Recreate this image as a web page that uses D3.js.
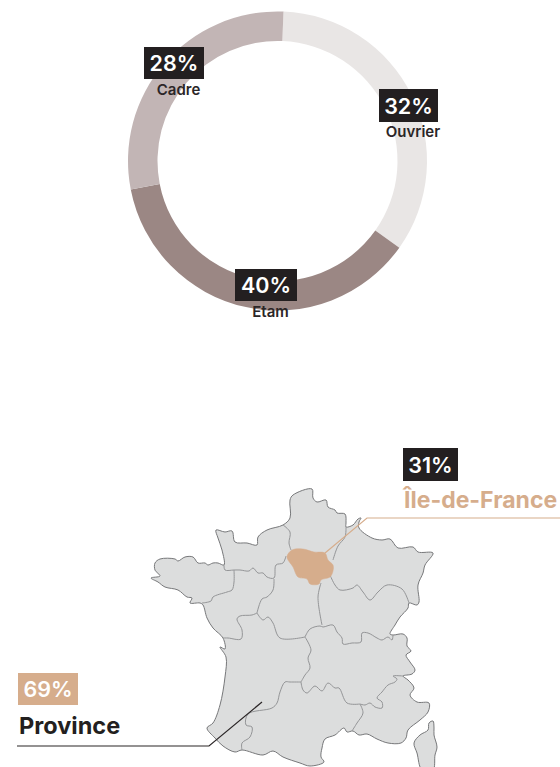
<!DOCTYPE html>
<html>
<head>
<meta charset="utf-8">
<script src="https://cdn.jsdelivr.net/npm/d3@7"></script>
<style>
  html, body { margin: 0; padding: 0; background: #fff; overflow: hidden; }
  text { font-family: Inter, "Noto Sans", sans-serif; }
</style>
</head>
<body>
<svg id="chart"></svg>
<script>
let categories = ['Ouvrier', 'Etam', 'Cadre']
let printedPct = [32, 40, 28]
let arcShares = [34.2, 37.1, 28.7]

//map values
let areaNames = ['Île-de-France', 'Province']
let areaPct = [31, 69]

//map shapes, traced in map units
let franceOutline = [[290,518],[290,500],[293,495],[312,489],[313,498],[317,502],[326,500],[328,507],[335,510],[337,513],[345,514],[346,523],[346,527],[353,525],[358,519],[361,518],[359,522],[359,528],[372,538],[382,540],[390,539],[398,548],[413,547],[418,552],[433,553],[425,565],[423,573],[418,585],[419,602],[417,605],[409,603],[408,608],[400,617],[395,625],[390,634],[393,635],[403,634],[407,638],[407,646],[411,651],[406,655],[410,662],[415,670],[412,674],[403,676],[408,680],[414,688],[410,695],[417,702],[429,703],[428,712],[420,720],[408,730],[406,738],[401,743],[388,743],[377,739],[367,734],[359,735],[353,731],[347,732],[344,728],[335,735],[325,739],[322,748],[321,757],[324,762],[310,766],[300,763],[283,757],[273,751],[263,755],[242,750],[235,752],[223,746],[215,738],[207,728],[213,723],[220,705],[225,677],[226,657],[220,647],[225,649],[223,638],[213,628],[207,618],[203,605],[200,603],[190,603],[192,598],[187,597],[178,590],[165,587],[158,582],[151,578],[160,576],[155,570],[155,563],[160,559],[175,559],[178,561],[185,557],[193,557],[198,563],[205,563],[208,565],[213,563],[218,563],[224,565],[222,550],[218,538],[216,530],[225,532],[232,531],[235,542],[247,543],[257,545],[258,537],[267,530],[283,525]]
let corsica = [[428,730],[429,723],[433,721],[434,728],[434,735],[437,747],[435,755],[433,770],[422,770],[417,753],[414,743],[420,735]]
let ileDeFrance = [[287,557],[292,550],[303,549],[314,552],[325,553],[328,560],[333,565],[333,571],[330,577],[321,580],[319,584],[310,584],[307,579],[298,577],[293,567]]
let regionBorders = [
  [[283,525],[290,532],[289,543],[291,550]],
  [[286,556],[283,563],[276,565],[274,578],[267,577],[263,573],[258,573],[253,568],[249,571],[240,570],[234,570],[225,570],[224,565]],
  [[234,570],[234,582],[232,590],[227,592],[213,597],[211,601],[202,603]],
  [[274,579],[273,590],[267,597],[262,599],[257,613]],
  [[257,613],[252,615],[240,616],[237,619],[242,630],[241,639],[228,638],[223,638]],
  [[257,613],[263,620],[268,617],[273,623],[280,638],[305,637]],
  [[321,583],[318,597],[322,625]],
  [[305,637],[310,629],[320,626],[323,627],[333,625],[337,632],[342,638],[343,644],[352,643],[361,642],[362,633],[368,633],[377,638],[382,640],[388,637],[392,640],[393,635]],
  [[305,637],[311,650],[308,658],[310,668],[305,675],[301,682]],
  [[301,682],[290,682],[285,682],[280,692],[277,703],[272,708],[248,714],[246,725],[252,727],[250,737],[242,743],[242,750]],
  [[301,682],[303,690],[307,693],[315,686],[322,691],[328,683],[335,688],[339,688],[347,703],[360,704]],
  [[360,704],[363,713],[357,723],[352,731]],
  [[360,704],[365,705],[370,703],[375,707],[382,708],[382,702],[377,698],[382,692],[388,685],[395,682],[397,679],[393,676],[403,676]],
  [[330,575],[335,585],[340,590],[353,588],[357,585],[363,592],[370,600],[378,592],[387,585],[402,589],[409,603]],
  [[346,527],[345,537],[338,546],[333,560]]
]

//set outer region
let outerWidth = 560
let outerHeight = 767

let ringColors = ['#e9e6e5', '#9b8784', '#c2b5b5']
let darkBox = '#231f20'
let tan = '#d6ad8c'

let svg = d3
  .select('svg#chart')
  .attr('width', outerWidth)
  .attr('height', outerHeight)
  .style('display', 'block')

//DONUT
let ring = svg.append('g').attr('transform', 'translate(277.5,161)')

let pie = d3
  .pie()
  .sort(null)
  .startAngle((2.3 * Math.PI) / 180)
  .endAngle((362.3 * Math.PI) / 180)

let arc = d3.arc().innerRadius(120).outerRadius(149.5)

ring
  .selectAll('path')
  .data(pie(arcShares))
  .join('path')
  .attr('d', arc)
  .attr('fill', (d, i) => ringColors[i])

//label boxes for the ring, same order as categories
let ringLabels = [
  { x: 379, y: 89, w: 59, h: 33, nameX: 413, nameY: 137 },
  { x: 235, y: 269, w: 62, h: 32, nameX: 270.5, nameY: 317 },
  { x: 144, y: 47, w: 60, h: 32, nameX: 178.5, nameY: 95 }
]

function pctBox(x, y, w, h, fill, label) {
  svg
    .append('rect')
    .attr('x', x)
    .attr('y', y)
    .attr('width', w)
    .attr('height', h)
    .attr('fill', fill)
  svg
    .append('text')
    .attr('x', x + w / 2)
    .attr('y', y + h / 2 + 8)
    .attr('text-anchor', 'middle')
    .attr('fill', '#fff')
    .attr('font-size', 21.5)
    .attr('font-weight', 600)
    .text(label)
}

ringLabels.forEach((l, i) => {
  pctBox(l.x, l.y, l.w, l.h, darkBox, printedPct[i] + '%')
  svg
    .append('text')
    .attr('x', l.nameX)
    .attr('y', l.nameY)
    .attr('text-anchor', 'middle')
    .attr('fill', '#2b2627')
    .attr('font-size', 15)
    .attr('font-weight', 600)
    .text(categories[i])
})

//MAP
let mapX = d3.scaleLinear().domain([150, 440]).range([150, 440])
let mapY = d3.scaleLinear().domain([488, 770]).range([488, 770])

let mapLine = d3
  .line()
  .x(d => mapX(d[0]))
  .y(d => mapY(d[1]))
  .curve(d3.curveCatmullRom.alpha(0.5))

let mapShape = d3
  .line()
  .x(d => mapX(d[0]))
  .y(d => mapY(d[1]))
  .curve(d3.curveCatmullRomClosed.alpha(0.5))

let map = svg.append('g')

map
  .selectAll('path.land')
  .data([franceOutline, corsica])
  .join('path')
  .attr('class', 'land')
  .attr('d', mapShape)
  .attr('fill', '#dcdddd')
  .attr('stroke', '#77787a')
  .attr('stroke-width', 1)

map
  .selectAll('path.border')
  .data(regionBorders)
  .join('path')
  .attr('class', 'border')
  .attr('d', mapLine)
  .attr('fill', 'none')
  .attr('stroke', '#949597')
  .attr('stroke-width', 1)

map
  .append('path')
  .attr('d', mapShape(ileDeFrance))
  .attr('fill', tan)
  .attr('stroke', tan)
  .attr('stroke-width', 0.5)

//leader lines
svg
  .append('polyline')
  .attr('points', '325,553 367,518 560,518')
  .attr('fill', 'none')
  .attr('stroke', tan)
  .attr('stroke-width', 1.2)

svg
  .append('polyline')
  .attr('points', '17,746 209,746 262,702')
  .attr('fill', 'none')
  .attr('stroke', '#2b2627')
  .attr('stroke-width', 1.2)

//map labels
pctBox(403, 448, 55, 33, darkBox, areaPct[0] + '%')
pctBox(18, 673, 60, 32, tan, areaPct[1] + '%')

svg
  .append('text')
  .attr('x', 404)
  .attr('y', 508)
  .attr('fill', tan)
  .attr('font-size', 23)
  .attr('font-weight', 700)
  .text(areaNames[0])

svg
  .append('text')
  .attr('x', 19)
  .attr('y', 734)
  .attr('fill', darkBox)
  .attr('font-size', 23.5)
  .attr('font-weight', 700)
  .text(areaNames[1])
</script>
</body>
</html>
